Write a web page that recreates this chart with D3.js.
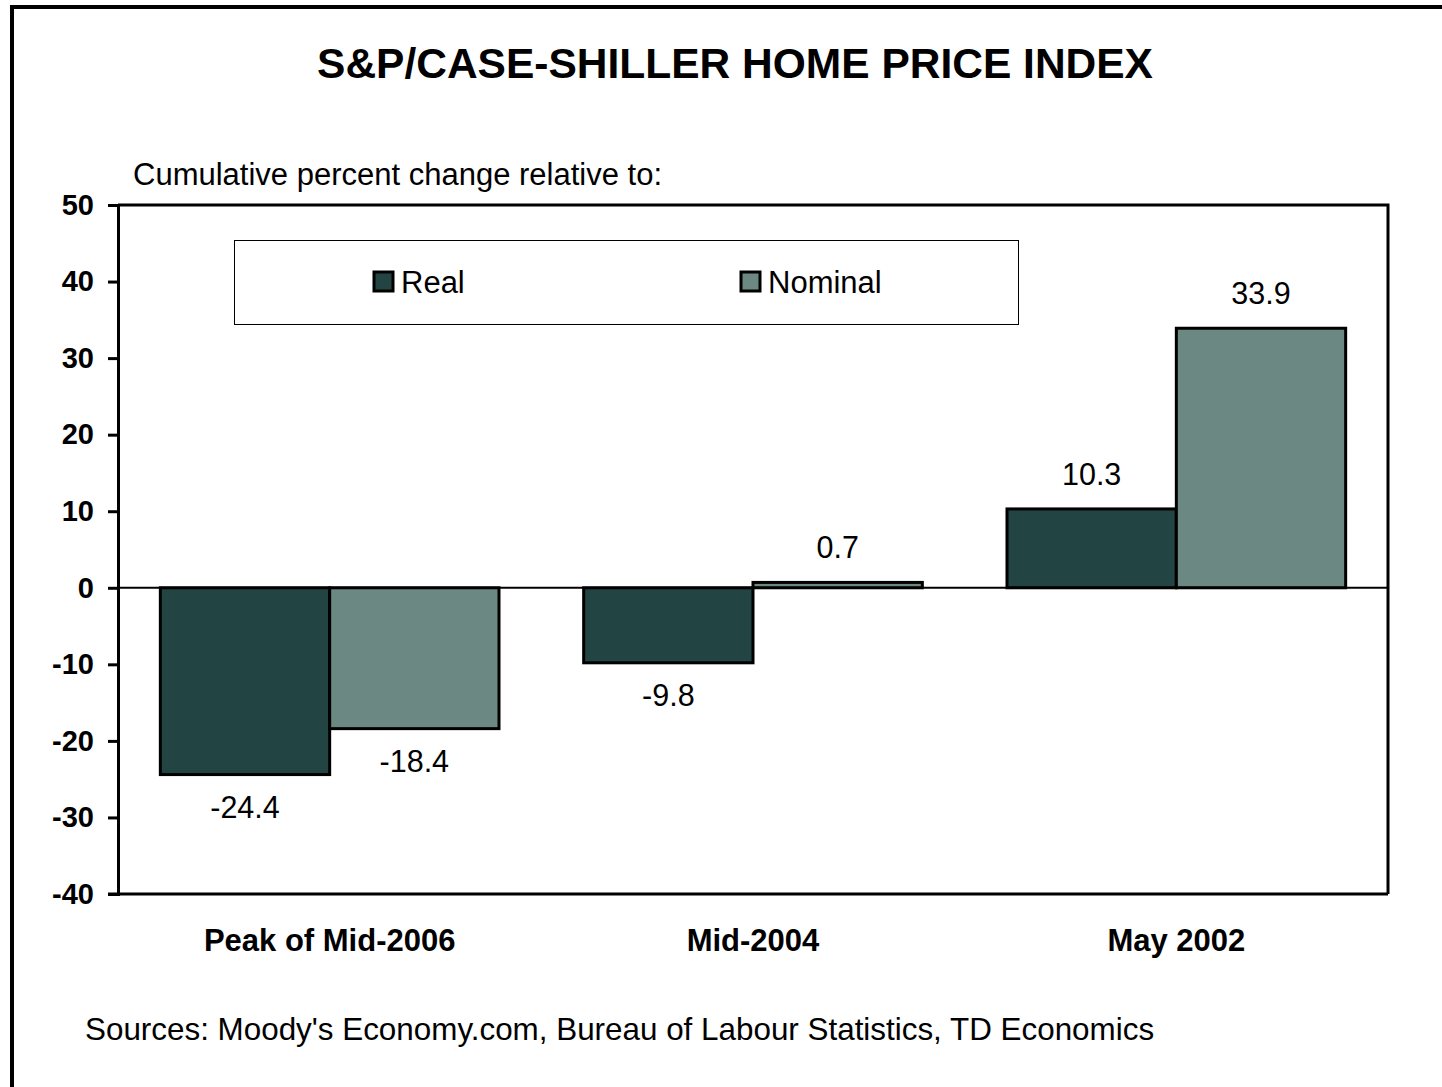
<!DOCTYPE html>
<html>
<head>
<meta charset="utf-8">
<script src="https://cdn.jsdelivr.net/npm/d3@7"></script>
<style>
  html, body { margin: 0; padding: 0; background: #fff; }
  svg { display: block; font-family: "Liberation Sans", Arial, sans-serif; }
</style>
</head>
<body>
<div id="chart"></div>
<script>
// chart values
const categories = ["Peak of Mid-2006", "Mid-2004", "May 2002"];
const seriesNames = ["Real", "Nominal"];
const realValues = [-24.4, -9.8, 10.3];
const nominalValues = [-18.4, 0.7, 33.9];
const yTicks = [-40, -30, -20, -10, 0, 10, 20, 30, 40, 50];

const colors = { Real: "#224443", Nominal: "#6b8982" };

const width = 1442, height = 1087;
const margin = { top: 205, right: 54, bottom: 193, left: 118 };

const svg = d3.select("#chart").append("svg")
    .attr("width", width)
    .attr("height", height);

// outer frame (runs off the right and bottom edge)
svg.append("rect")
    .attr("x", 12).attr("y", 7)
    .attr("width", width + 20).attr("height", height + 20)
    .attr("fill", "none").attr("stroke", "#000").attr("stroke-width", 4);

svg.append("text")
    .attr("x", 735).attr("y", 78)
    .attr("text-anchor", "middle")
    .attr("font-size", 42.5).attr("font-weight", "bold")
    .text("S&P/CASE-SHILLER HOME PRICE INDEX");

svg.append("text")
    .attr("x", 133).attr("y", 185)
    .attr("font-size", 31)
    .text("Cumulative percent change relative to:");

const x0 = margin.left, x1 = width - margin.right;
const yTop = margin.top, yBot = height - margin.bottom;

let x = d3.scaleBand()
    .domain(categories)
    .range([x0, x1])
    .paddingInner(0.2)
    .paddingOuter(0.1);

let xs = d3.scaleBand()
    .domain(seriesNames)
    .range([0, x.bandwidth()]);

let y = d3.scaleLinear()
    .domain([-40, 50])
    .range([yBot, yTop]);

// plot frame: top and right
svg.append("path")
    .attr("d", `M${x0},${yTop}H${x1}V${yBot}`)
    .attr("fill", "none").attr("stroke", "#000").attr("stroke-width", 3);

let rows = categories.map((c, i) => ({ cat: c, Real: realValues[i], Nominal: nominalValues[i] }));

let groups = svg.append("g").selectAll("g")
    .data(rows)
    .enter().append("g")
    .attr("transform", d => "translate(" + x(d.cat) + ",0)");

let bars = groups.selectAll("g")
    .data(d => seriesNames.map(s => ({ key: s, value: d[s] })))
    .enter().append("g");

bars.append("rect")
    .attr("x", d => xs(d.key))
    .attr("y", d => y(Math.max(0, d.value)))
    .attr("width", xs.bandwidth())
    .attr("height", d => Math.abs(y(d.value) - y(0)))
    .attr("fill", d => colors[d.key])
    .attr("stroke", "#000").attr("stroke-width", 3);

bars.append("text")
    .attr("x", d => xs(d.key) + xs.bandwidth() / 2)
    .attr("y", d => d.value >= 0 ? y(d.value) - 24 : y(d.value) + 43)
    .attr("text-anchor", "middle")
    .attr("font-size", 30.5)
    .text(d => d.value.toFixed(1));

// zero line
svg.append("line")
    .attr("x1", x0).attr("x2", x1)
    .attr("y1", y(0)).attr("y2", y(0))
    .attr("stroke", "#000").attr("stroke-width", 2);

// y axis
let yAxis = svg.append("g")
    .attr("transform", "translate(" + x0 + ",0)")
    .call(d3.axisLeft(y).tickValues(yTicks).tickSize(10).tickPadding(14).tickFormat(d => String(d)));
yAxis.select(".domain").attr("stroke-width", 3);
yAxis.selectAll(".tick line").attr("stroke-width", 3);
yAxis.selectAll(".tick text")
    .attr("font-size", 29).attr("font-weight", "bold")
    .attr("font-family", "Liberation Sans, Arial, sans-serif")
    .attr("fill", "#000");

// bottom axis line
svg.append("line")
    .attr("x1", x0 - 10).attr("x2", x1)
    .attr("y1", yBot).attr("y2", yBot)
    .attr("stroke", "#000").attr("stroke-width", 3);

svg.append("g").selectAll("text")
    .data(categories)
    .enter().append("text")
    .attr("x", d => x(d) + x.bandwidth() / 2)
    .attr("y", 951)
    .attr("text-anchor", "middle")
    .attr("font-size", 31).attr("font-weight", "bold")
    .text(d => d);

// legend
svg.append("rect")
    .attr("x", 234.5).attr("y", 240.5)
    .attr("width", 784).attr("height", 84)
    .attr("fill", "#fff").attr("stroke", "#000").attr("stroke-width", 1);

let legendX = { Real: 374, Nominal: 741 };
let legend = svg.append("g").selectAll("g")
    .data(seriesNames)
    .enter().append("g")
    .attr("transform", d => "translate(" + legendX[d] + ",272)");
legend.append("rect")
    .attr("width", 19).attr("height", 19)
    .attr("fill", d => colors[d])
    .attr("stroke", "#000").attr("stroke-width", 3);
legend.append("text")
    .attr("x", 27).attr("y", 21)
    .attr("font-size", 31)
    .text(d => d);

svg.append("text")
    .attr("x", 85).attr("y", 1040)
    .attr("font-size", 31.4)
    .text("Sources: Moody's Economy.com, Bureau of Labour Statistics, TD Economics");
</script>
</body>
</html>
